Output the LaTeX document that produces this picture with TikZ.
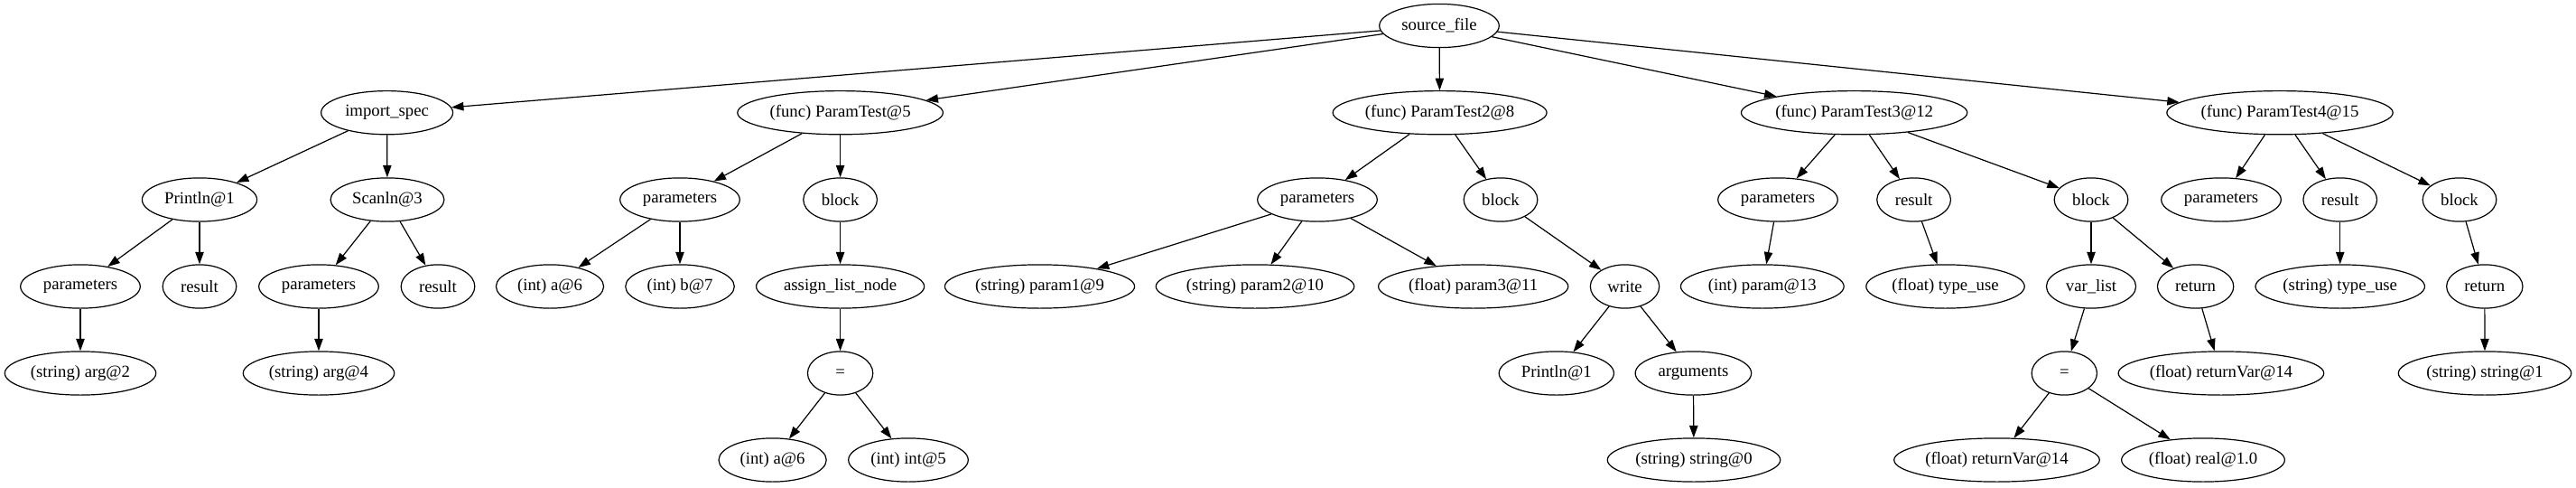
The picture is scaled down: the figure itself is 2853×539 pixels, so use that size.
\documentclass[tikz,border=0pt]{standalone}
\usepackage{fontspec}
\setmainfont{Liberation Serif}
\usetikzlibrary{shapes.geometric,arrows.meta}
\tikzset{
  gv/.style={draw, ellipse, line width=0.9pt, minimum height=36pt, inner sep=0pt, font=\fontsize{14}{16}\selectfont},
  edge/.style={line width=0.9pt, -{Triangle[length=10pt,width=7pt]}}
}
\begin{document}
\begin{tikzpicture}[x=0.7468pt,y=-0.7468pt]
\useasboundingbox (0,0) rectangle (2853,539);
% row 1
\node[gv, minimum width=99pt] (sf) at (1594,28.5) {source\_file};
% row 2
\node[gv, minimum width=109pt] (imp) at (428.6,124.7) {import\_spec};
\node[gv, minimum width=170pt] (pt5) at (930.6,124.7) {(func) ParamTest@5};
\node[gv, minimum width=177pt] (pt2) at (1594.6,124.7) {(func) ParamTest2@8};
\node[gv, minimum width=187pt] (pt3) at (2053.6,124.7) {(func) ParamTest3@12};
\node[gv, minimum width=187pt] (pt4) at (2525,124.7) {(func) ParamTest4@15};
% row 3
\node[gv, minimum width=95pt] (pl1) at (221,221) {Println@1};
\node[gv, minimum width=94pt] (sc3) at (429,221) {Scanln@3};
\node[gv, minimum width=99pt] (par5) at (753,221) {parameters};
\node[gv, minimum width=61pt] (blk5) at (930.6,221) {block};
\node[gv, minimum width=99pt] (par8) at (1459,221) {parameters};
\node[gv, minimum width=61pt] (blk8) at (1662,221) {block};
\node[gv, minimum width=99pt] (par12) at (1969,221) {parameters};
\node[gv, minimum width=61pt] (res12) at (2119.6,221) {result};
\node[gv, minimum width=61pt] (blk12) at (2316,221) {block};
\node[gv, minimum width=99pt] (par15) at (2460,221) {parameters};
\node[gv, minimum width=61pt] (res15) at (2591.7,221) {result};
\node[gv, minimum width=61pt] (blk15) at (2724,221) {block};
% row 4
\node[gv, minimum width=99pt] (par1) at (89,317) {parameters};
\node[gv, minimum width=61pt] (res1) at (221,317) {result};
\node[gv, minimum width=99pt] (par3) at (353,317) {parameters};
\node[gv, minimum width=61pt] (res3) at (485,317) {result};
\node[gv, minimum width=89pt] (a6) at (609,317) {(int) a@6};
\node[gv, minimum width=90pt] (b7) at (753,317) {(int) b@7};
\node[gv, minimum width=139pt] (aln) at (930.6,317) {assign\_list\_node};
\node[gv, minimum width=157pt] (p9) at (1151.5,317) {(string) param1@9};
\node[gv, minimum width=164pt] (p10) at (1390,317) {(string) param2@10};
\node[gv, minimum width=157pt] (p11) at (1631.7,317) {(float) param3@11};
\node[gv, minimum width=57pt] (wr) at (1799.5,317) {write};
\node[gv, minimum width=135pt] (p13) at (1951.8,317) {(int) param@13};
\node[gv, minimum width=131pt] (ftu) at (2154.5,317) {(float) type\_use};
\node[gv, minimum width=74pt] (vl) at (2316,317) {var\_list};
\node[gv, minimum width=63pt] (ret12) at (2431.6,317) {return};
\node[gv, minimum width=140pt] (stu) at (2591.7,317) {(string) type\_use};
\node[gv, minimum width=63pt] (ret15) at (2751.8,317) {return};
% row 5
\node[gv, minimum width=125pt] (arg2) at (89,413) {(string) arg@2};
\node[gv, minimum width=125pt] (arg4) at (353,413) {(string) arg@4};
\node[gv, minimum width=54pt] (eq5) at (930.6,413) {=};
\node[gv, minimum width=95pt] (pl1b) at (1723.8,413) {Println@1};
\node[gv, minimum width=96pt] (args) at (1875.4,413) {arguments};
\node[gv, minimum width=54pt] (eq12) at (2286.3,413) {=};
\node[gv, minimum width=170pt] (rv14a) at (2459.9,413) {(float) returnVar@14};
\node[gv, minimum width=143pt] (s1) at (2752,413) {(string) string@1};
% row 6
\node[gv, minimum width=89pt] (a6b) at (855.6,509) {(int) a@6};
\node[gv, minimum width=99pt] (int5) at (1006,509) {(int) int@5};
\node[gv, minimum width=143pt] (s0) at (1876,509) {(string) string@0};
\node[gv, minimum width=170pt] (rv14b) at (2211.5,509) {(float) returnVar@14};
\node[gv, minimum width=135pt] (real) at (2440,509) {(float) real@1.0};
% edges
\foreach \a/\b in {sf/imp, sf/pt5, sf/pt2, sf/pt3, sf/pt4,
  imp/pl1, imp/sc3, pl1/par1, pl1/res1, par1/arg2, sc3/par3, sc3/res3, par3/arg4,
  pt5/par5, pt5/blk5, par5/a6, par5/b7, blk5/aln, aln/eq5, eq5/a6b, eq5/int5,
  pt2/par8, pt2/blk8, par8/p9, par8/p10, par8/p11, blk8/wr, wr/pl1b, wr/args, args/s0,
  pt3/par12, pt3/res12, pt3/blk12, par12/p13, res12/ftu, blk12/vl, blk12/ret12, vl/eq12, eq12/rv14b, eq12/real, ret12/rv14a,
  pt4/par15, pt4/res15, pt4/blk15, res15/stu, blk15/ret15, ret15/s1}
  \draw[edge] (\a) -- (\b);
\end{tikzpicture}
\end{document}
